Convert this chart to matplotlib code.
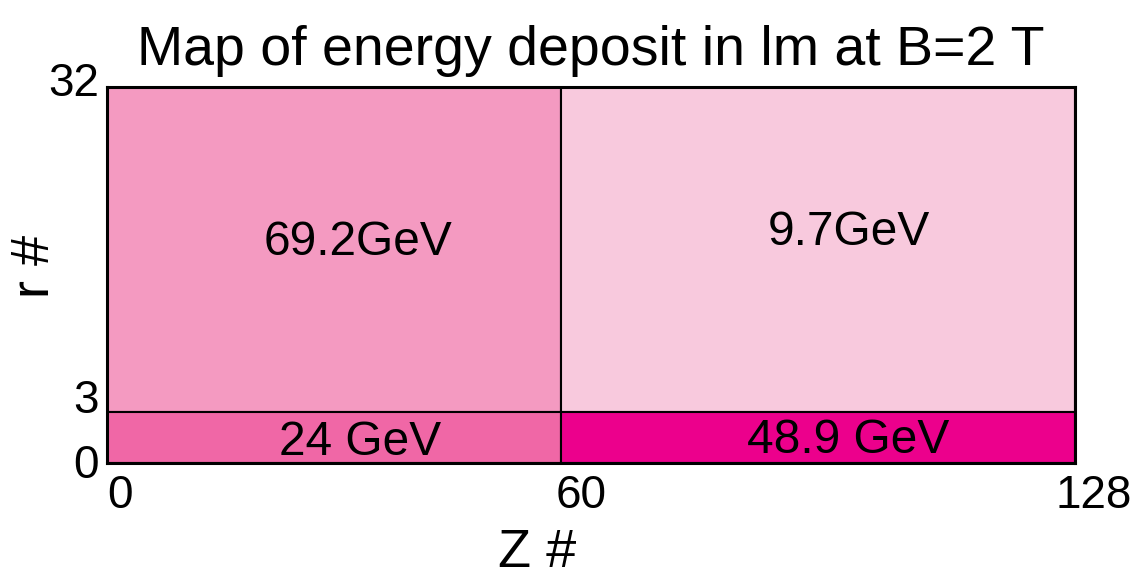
import numpy as np
import matplotlib
matplotlib.use('Agg')
import matplotlib.pyplot as plt
import matplotlib.transforms as mtransforms
from matplotlib.patches import Rectangle

plt.rcParams['font.family'] = ['Liberation Sans', 'DejaVu Sans']

# cells: z range, r range, energy label, colour
z_edges = [0, 60, 128]
r_edges = [0, 3, 32]
cell_z = [(0, 60), (60, 128), (0, 60), (60, 128)]
cell_r = [(3, 32), (3, 32), (0, 3), (0, 3)]
cell_labels = ['69.2GeV', '9.7GeV', '24 GeV', '48.9 GeV']
cell_colors = ['#F49AC1', '#F8C9DD', '#F067A6', '#EC008C']
label_z = [33.2, 98.1, 33.5, 98.0]
label_r = [18.1, 19.0, 1.18, 1.35]


# r axis is not linear in the original: the 0-3 band is stretched
def fwd(y):
    y = np.asarray(y, dtype=float)
    return np.where(y <= 3, y * 17.0, 51.0 + (y - 3) * (325.0 / 29))


def inv(v):
    v = np.asarray(v, dtype=float)
    return np.where(v <= 51, v / 17.0, 3 + (v - 51.0) * (29 / 325.0))


fig = plt.figure(figsize=(11.41, 5.71), dpi=100)
ax = fig.add_axes([107 / 1141, 1 - 463 / 571, (1075 - 107) / 1141, (463 - 87) / 571])
ax.set_yscale('function', functions=(fwd, inv))
ax.set_xlim(0, 128)
ax.set_ylim(0, 32)

for (z0, z1), (r0, r1), c in zip(cell_z, cell_r, cell_colors):
    ax.add_patch(Rectangle((z0, r0), z1 - z0, r1 - r0, facecolor=c,
                           edgecolor='black', linewidth=1.5))

for z, r, t in zip(label_z, label_r, cell_labels):
    ax.text(z, r, t, ha='center', va='center', fontsize=34.5)

for s in ax.spines.values():
    s.set_linewidth(2.2)
    s.set_zorder(5)

ax.set_xticks(z_edges)
ax.set_xticklabels([str(v) for v in z_edges])
ax.set_yticks(r_edges)
ax.set_yticklabels([str(v) for v in r_edges])
ax.tick_params(length=0, labelsize=33, pad=6)
ax.tick_params(axis='x', pad=8)

# tick labels in the original are shifted off their ticks
x_shift = [13, 20, 19]
for lab, dx in zip(ax.get_xticklabels(), x_shift):
    lab.set_transform(lab.get_transform() +
                      mtransforms.ScaledTranslation(dx / 100, 0, fig.dpi_scale_trans))
y_shift = [2, 16, 8]
for lab, dy in zip(ax.get_yticklabels(), y_shift):
    lab.set_transform(lab.get_transform() +
                      mtransforms.ScaledTranslation(0, dy / 100, fig.dpi_scale_trans))

ax.set_xlabel('Z #', fontsize=39)
ax.xaxis.set_label_coords(0.444, -0.174)
ax.set_ylabel('r #', fontsize=39)
ax.yaxis.set_label_coords(-0.049, 0.524)
ax.set_title('Map of energy deposit in lm at B=2 T', fontsize=40, pad=16)

fig.savefig('out.png', dpi=100)
